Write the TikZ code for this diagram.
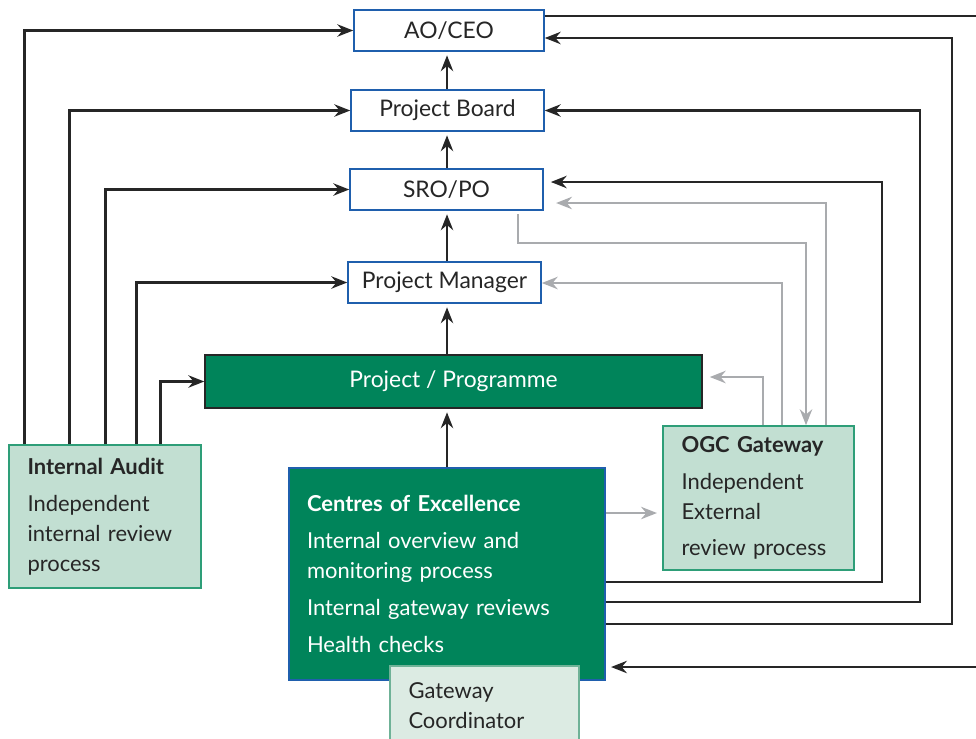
\documentclass[tikz,border=0pt]{standalone}
\usepackage{fontspec}
\setmainfont{Lato}
\usetikzlibrary{arrows.meta}

\definecolor{ogcgreen}{HTML}{00845A}
\definecolor{auditfill}{HTML}{C2DFD2}
\definecolor{auditedge}{HTML}{2E9E78}
\definecolor{coordfill}{HTML}{DCEBE3}
\definecolor{coordedge}{HTML}{6FB297}
\definecolor{roleblue}{HTML}{1F5FAD}
\definecolor{reviewgray}{HTML}{A9ABAE}
\definecolor{inkgray}{HTML}{262626}

\tikzset{
  rolebox/.style={draw=roleblue, line width=0.9pt, fill=white, text=inkgray,
    minimum width=3.86cm, minimum height=0.82cm, inner sep=0pt,
    font=\fontsize{13}{15}\selectfont},
  mainbox/.style={fill=ogcgreen, text=white, inner sep=0pt,
    font=\fontsize{13}{15}\selectfont},
  reviewbox/.style={draw=auditedge, line width=0.9pt, fill=auditfill, text=inkgray,
    align=left, inner xsep=0.37cm, inner ysep=0pt,
    font=\fontsize{12.5}{17}\selectfont},
  feed/.style={draw=inkgray, line width=1.5pt},
  review/.style={draw=reviewgray, line width=1.5pt},
}

\begin{document}
\begin{tikzpicture}[x=0.02cm, y=-0.02cm, >={Stealth[length=9pt,width=7pt]}]
    \useasboundingbox (0,0) rectangle (976,738);

    % === CADENA DE MANDO ===
    \node[rolebox, minimum width=3.8cm] (ceo) at (449,30.5) {AO/CEO};
    \node[rolebox] (board) at (447.5,110.5) {Project Board};
    \node[rolebox] (sro) at (446.5,189.5) {SRO/PO};
    \node[rolebox] (pm) at (444.5,282.5) {Project Manager};
    \node[mainbox, draw=inkgray, line width=0.9pt, minimum width=9.94cm, minimum height=1.06cm]
        (proj) at (453.5,381.5) {Project / Programme};

    % Centres of Excellence
    \node[mainbox, draw=roleblue, line width=0.9pt, minimum width=6.32cm, minimum height=4.24cm,
        align=left, text width=5.6cm, inner xsep=0.36cm, font=\fontsize{12.5}{17}\selectfont]
        (centres) at (447,574)
        {{\bfseries Centres of Excellence}\\[4pt]
         Internal overview and\\ monitoring process\\[4pt]
         Internal gateway reviews\\[4pt]
         Health checks};

    % Gateway Coordinator (sobre el borde inferior)
    \node[reviewbox, draw=coordedge, fill=coordfill, minimum width=3.78cm, minimum height=1.6cm,
        text width=3.04cm] (gwc) at (484.5,706) {Gateway\\ Coordinator};

    % === REVISIONES ===
    \node[reviewbox, minimum width=3.84cm, minimum height=2.86cm, text width=3.1cm]
        (audit) at (105,516.5)
        {{\bfseries Internal Audit}\\[4pt] Independent\\ internal review\\ process};
    \node[reviewbox, minimum width=3.82cm, minimum height=2.88cm, text width=3.08cm]
        (ogc) at (758.5,498)
        {{\bfseries OGC Gateway}\\[4pt] Independent\\ External\\[4pt] review process};

    % Flechas verticales: Centres -> ... -> AO/CEO
    \foreach \a/\b in {centres/proj, proj/pm, pm/sro, sro/board, board/ceo}
        \draw[feed, ->, shorten >=2pt] (\a.north -| centres.north) -- (\b.south -| centres.north);

    % Internal Audit informa a cada nivel
    \draw[feed, ->] ([xshift=0.32cm]audit.north west) |- (ceo);
    \draw[feed, ->] ([xshift=1.22cm]audit.north west) |- (board);
    \draw[feed, ->] ([xshift=1.94cm]audit.north west) |- (sro.west);
    \draw[feed, ->] ([xshift=2.56cm]audit.north west) |- (pm);
    \draw[feed, ->] ([xshift=3.04cm]audit.north west) |- (proj);

    % Centres informa a AO/CEO, Board y SRO por la derecha
    \coordinate (offtop) at (990,16);
    \coordinate (r1low) at (952,624);
    \coordinate (r1top) at (952,38);
    \coordinate (r2low) at (920,602);
    \coordinate (r3low) at (882,582);
    \coordinate (r3top) at (882,182);
    \coordinate (offbot) at (990,667);
    \draw[feed] (offtop -| ceo.east) -- (offtop);
    \draw[feed, ->] (r1low -| centres.east) -- (r1low) -- (r1top) -- (r1top -| ceo.east);
    \draw[feed, ->] (r2low -| centres.east) -- (r2low) |- (board);
    \draw[feed, ->, shorten >=4pt] (r3low -| centres.east) -- (r3low) -- (r3top) -- (r3top -| sro.east);
    \draw[feed, ->, shorten >=3pt] (offbot) -- (offbot -| centres.east);

    % OGC Gateway (gris)
    \coordinate (g1) at (826,203);
    \coordinate (g2a) at (518,243);
    \coordinate (g2b) at (806,243);
    \coordinate (g3) at (782,283);
    \coordinate (g4) at (763,377);
    \coordinate (g5) at (700,513);
    \draw[review, ->, shorten >=7pt] (g1 |- ogc.north) -- (g1) -- (g1 -| sro.east);
    \draw[review, ->, shorten <=2pt] (g2a |- sro.south) -- (g2a) -- (g2b) -- (g2b |- ogc.north);
    \draw[review, ->] (g3 |- ogc.north) -- (g3) -- (g3 -| pm.east);
    \draw[review, ->, shorten >=4pt] (g4 |- ogc.north) -- (g4) -- (g4 -| proj.east);
    \draw[review, ->, shorten >=3pt] (g5 -| centres.east) -- (g5 -| ogc.west);

\end{tikzpicture}
\end{document}
